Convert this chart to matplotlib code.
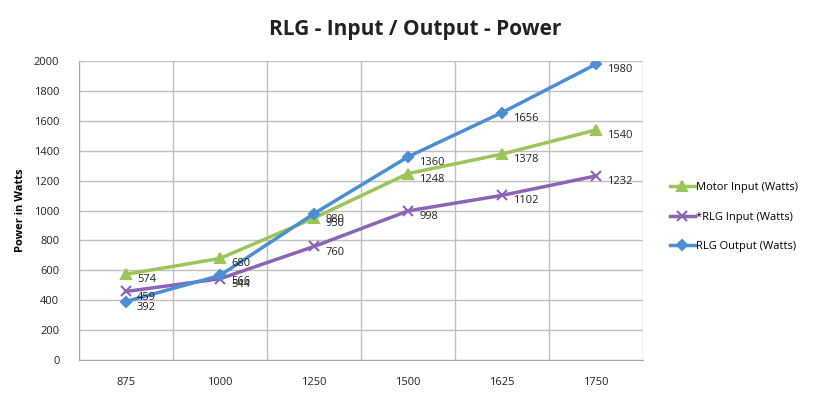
import matplotlib
matplotlib.use("Agg")
import matplotlib.pyplot as plt
import numpy as np

plt.rcParams['font.family'] = ['Open Sans', 'DejaVu Sans']

speeds = ['875', '1000', '1250', '1500', '1625', '1750']
motor_input = [574, 680, 950, 1248, 1378, 1540]
rlg_input = [459, 544, 760, 998, 1102, 1232]
rlg_output = [392, 566, 980, 1360, 1656, 1980]

green = '#9BC45A'
purple = '#8B64B6'
blue = '#4A8FD4'

fig = plt.figure(figsize=(8.3, 3.94), dpi=100)
ax = fig.add_axes([0.095, 0.086, 0.68, 0.759])

x = np.arange(len(speeds))
series = [
    (motor_input, green, '^', 'Motor Input (Watts)', 7),
    (rlg_input, purple, 'x', '*RLG Input (Watts)', 7),
    (rlg_output, blue, 'D', 'RLG Output (Watts)', 5),
]
for vals, col, mk, lab, ms in series:
    ax.plot(x, vals, color=col, lw=2.5, marker=mk, ms=ms, mew=1.5, label=lab)
    for xi, v in zip(x, vals):
        # labels sit right of the point, a bit lower (excel style)
        ax.annotate(str(v), (xi, v), xytext=(8, -4), textcoords='offset points',
                    fontsize=8, color='#222222', va='center', ha='left')

ax.set_xlim(-0.5, len(speeds) - 0.5)
ax.set_ylim(0, 2000)
ax.set_yticks(range(0, 2001, 200))
ax.set_xticks(x)
ax.set_xticklabels(speeds)
ax.set_xticks(np.arange(-0.5, len(speeds), 1), minor=True)
ax.tick_params(axis='both', which='both', length=0, labelsize=8, colors='#222222')
ax.tick_params(axis='x', pad=12)
ax.tick_params(axis='y', pad=14)
ax.grid(True, axis='y', color='#bfbfbf', lw=1)
ax.grid(True, axis='x', which='minor', color='#bfbfbf', lw=1)
ax.set_axisbelow(True)
for s in ['top', 'right']:
    ax.spines[s].set_visible(False)
ax.spines['left'].set_color('#a6a6a6')
ax.spines['bottom'].set_color('#a6a6a6')

ax.set_ylabel('Power in Watts', fontsize=8, fontweight='bold', labelpad=6)
fig.text(0.5, 0.925, 'RLG - Input / Output - Power', ha='center', va='center',
         fontsize=15, fontweight='bold', color='#222222')

leg = ax.legend(loc='center left', bbox_to_anchor=(1.03, 0.478), frameon=False,
                fontsize=8, handlelength=2.2, handletextpad=0.1, labelspacing=1.65)

fig.savefig('out.png', dpi=100)
